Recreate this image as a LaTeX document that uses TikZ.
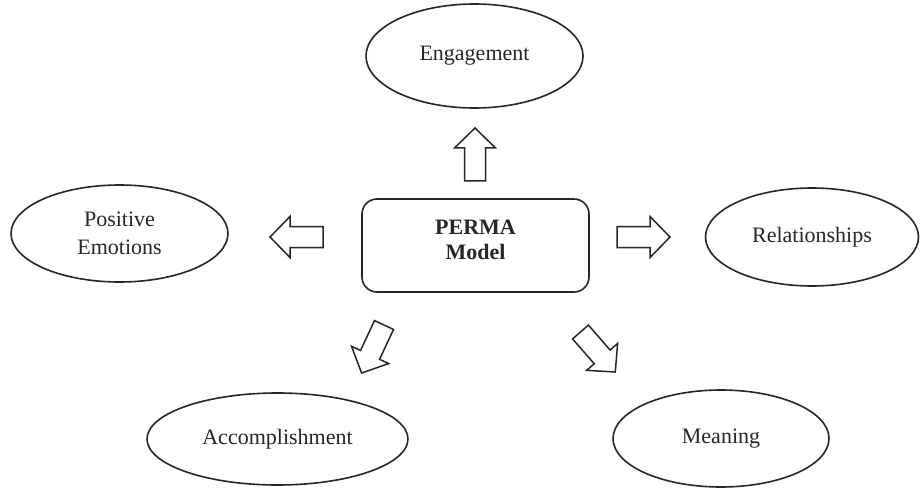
\documentclass[tikz,border=0pt]{standalone}
\usepackage{fontspec}
\setmainfont{Liberation Serif}
\usetikzlibrary{shapes.geometric}
\tikzset{
  every node/.style={font=\fontsize{22}{28}\selectfont, text=black!85},
  oval/.style={ellipse, draw=black!85, line width=1.6pt, inner sep=0pt, align=center},
  centerbox/.style={rectangle, rounded corners=15pt, draw=black!85, line width=1.6pt, minimum width=227pt, minimum height=93pt, inner sep=0pt},
  blockline/.style={draw=black!85, line width=1.5pt, line join=miter, fill=white}
}
\newcommand{\blockarrow}[3]{%
  \begin{scope}[shift={(#1,#2)}, rotate=#3]
    \draw[blockline] (0,-10.5) -- (33,-10.5) -- (33,-20.5) -- (53,0) -- (33,20.5) -- (33,10.5) -- (0,10.5) -- cycle;
  \end{scope}}
\begin{document}
\begin{tikzpicture}[x=1pt, y=-1pt]
\useasboundingbox (0,0) rectangle (923,489);
% centre
\node[centerbox] (perma) at (475.5,245.5) {};
\node[font=\fontsize{22}{25}\selectfont\bfseries, align=center, yshift=6pt] (permatext) at (perma.center) {PERMA\\Model};
% ellipses
\node[oval, minimum width=217pt, minimum height=104pt] (eng) at (474.5,56) {Engagement};
\node[oval, minimum width=217pt, minimum height=97pt] (pos) at (119.5,233.5) {Positive\\Emotions};
\node[oval, minimum width=213pt, minimum height=98pt] (rel) at (812,237) {Relationships};
\node[oval, minimum width=261pt, minimum height=92pt] (acc) at (277.5,439) {Accomplishment};
\node[oval, minimum width=216pt, minimum height=97pt] (mea) at (721,438.5) {Meaning};
% block arrows
\blockarrow{475}{181}{90}
\blockarrow{323}{237}{180}
\blockarrow{617}{237}{0}
\blockarrow{384}{325}{-115}
\blockarrow{580.5}{332}{-49}
\end{tikzpicture}
\end{document}
